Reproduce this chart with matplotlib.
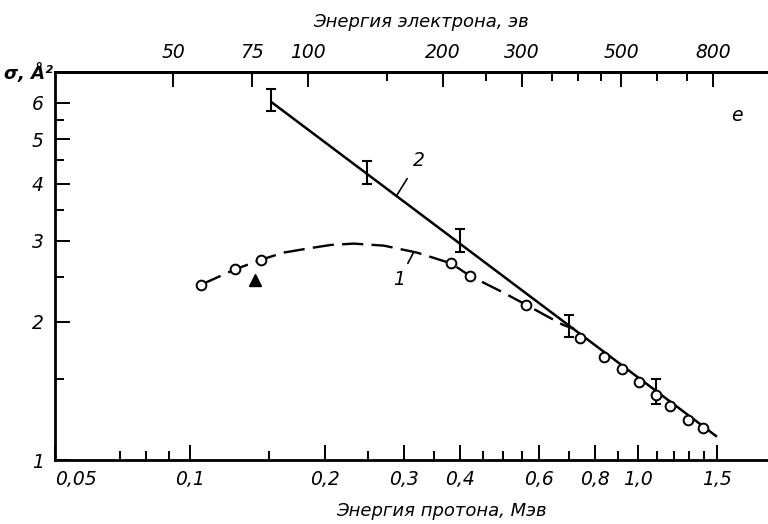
import matplotlib
matplotlib.use("Agg")
import matplotlib.pyplot as plt
from matplotlib.ticker import FixedLocator, FixedFormatter, NullFormatter

# ---------------- data ----------------
# curve 1: measured points (open circles)
circ_x = [0.106, 0.126, 0.144, 0.383, 0.421, 0.562, 0.744, 0.841, 0.920,
          1.007, 1.095, 1.180, 1.292, 1.398]
circ_y = [2.41, 2.60, 2.73, 2.68, 2.52, 2.18, 1.84, 1.68, 1.58,
          1.476, 1.387, 1.312, 1.22, 1.175]
# curve 1: dashed guide line
dash_x = [0.106, 0.126, 0.144, 0.162, 0.184, 0.206, 0.232, 0.271, 0.321,
          0.383, 0.421, 0.490, 0.562, 0.630, 0.680, 0.720]
dash_y = [2.41, 2.60, 2.73, 2.83, 2.89, 2.94, 2.96, 2.93, 2.83,
          2.68, 2.52, 2.34, 2.18, 2.05, 1.97, 1.93]
# single filled triangle
tri_x = [0.140]
tri_y = [2.47]
# curve 2: straight line
line2_x = [0.152, 1.50]
line2_y = [6.02, 1.124]
# curve 2: error bars
eb_x = [0.1515, 0.249, 0.401, 0.700, 1.095]
eb_y = [6.08, 4.23, 3.01, 1.96, 1.409]
eb_lo = [5.75, 4.00, 2.84, 1.854, 1.323]
eb_hi = [6.43, 4.47, 3.19, 2.07, 1.50]

# axis ticks
x_major = [0.05, 0.1, 0.2, 0.3, 0.4, 0.6, 0.8, 1.0, 1.5]
x_major_lbl = ["0,05", "0,1", "0,2", "0,3", "0,4", "0,6", "0,8", "1,0", "1,5"]
x_minor = [0.07, 0.08, 0.09, 0.15, 0.25, 0.35, 0.45, 0.5, 0.55, 0.7, 0.9,
           1.1, 1.2, 1.3, 1.4]
y_major = [1, 2, 3, 4, 5, 6]
y_major_lbl = ["1", "2", "3", "4", "5", "6"]
y_minor = [1.5, 2.5, 3.5, 4.5, 5.5]
top_major = [50, 75, 100, 200, 300, 500, 800]
top_major_lbl = ["50", "75", "100", "200", "300", "500", "800"]
top_minor = [150, 250, 350, 400, 450, 600, 700]
EV_PER_MEV = 544.7  # electron energy (eV) of same velocity as 1 MeV proton

# ---------------- fonts ----------------
FAM = "DejaVu Sans"
TICK_SIZE = 13.5
tick_font = dict(family=FAM, style="italic", size=TICK_SIZE)
lab_font = dict(family=FAM, style="italic", size=13)


def style_labels(labels):
    for lbl in labels:
        lbl.set_fontfamily(FAM)
        lbl.set_fontstyle("italic")
        lbl.set_fontsize(TICK_SIZE)


# ---------------- figure ----------------
W, H = 768, 524
fig = plt.figure(figsize=(W / 100, H / 100), dpi=100)
ax = fig.add_axes([55 / W, (H - 460) / H, (W - 55) / W, 388 / H])
ax.set_xscale("log")
ax.set_yscale("log")
ax.set_xlim(0.05, 1.95)
ax.set_ylim(1.0, 7.0)

# curve 2
ax.plot(line2_x, line2_y, color="black", lw=1.8, solid_capstyle="butt", zorder=3)
yerr = [[c - l for c, l in zip(eb_y, eb_lo)], [h - c for c, h in zip(eb_y, eb_hi)]]
ax.errorbar(eb_x, eb_y, yerr=yerr, fmt="none", ecolor="black", elinewidth=1.5,
            capsize=3.5, capthick=1.5, zorder=3)
# curve 1
ax.plot(dash_x, dash_y, color="black", lw=1.7, linestyle=(0, (9, 3.5)), zorder=2)
ax.plot(circ_x, circ_y, "o", ms=7, mfc="white", mec="black", mew=1.4, zorder=4)
ax.plot(tri_x, tri_y, "^", ms=8, color="black", zorder=4)

# labels on curves
ax.annotate("2", xy=(0.289, 3.76), xytext=(0.3236, 4.49), ha="center", va="center",
            arrowprops=dict(arrowstyle="-", lw=1.2, color="black", shrinkA=5, shrinkB=0),
            **tick_font)
ax.annotate("1", xy=(0.3154, 2.83), xytext=(0.2936, 2.475), ha="center", va="center",
            arrowprops=dict(arrowstyle="-", lw=1.2, color="black", shrinkA=3, shrinkB=0),
            **tick_font)
ax.text(0.957, 0.889, "e", transform=ax.transAxes, ha="center", va="center", **tick_font)

# spines
for s in ("left", "bottom", "top"):
    ax.spines[s].set_linewidth(2.0)
ax.spines["right"].set_visible(False)

# bottom / left ticks
ax.xaxis.set_major_locator(FixedLocator(x_major))
ax.xaxis.set_major_formatter(FixedFormatter(x_major_lbl))
ax.xaxis.set_minor_locator(FixedLocator(x_minor))
ax.xaxis.set_minor_formatter(NullFormatter())
ax.yaxis.set_major_locator(FixedLocator(y_major))
ax.yaxis.set_major_formatter(FixedFormatter(y_major_lbl))
ax.yaxis.set_minor_locator(FixedLocator(y_minor))
ax.yaxis.set_minor_formatter(NullFormatter())
ax.tick_params(which="both", direction="in", top=False, right=False, width=1.4)
ax.tick_params(which="major", length=11)
ax.tick_params(which="minor", length=6.5)
ax.tick_params(axis="x", which="major", pad=7)
ax.tick_params(axis="y", which="major", pad=8)
xl = ax.get_xticklabels()
style_labels(xl + ax.get_yticklabels())
xl[0].set_horizontalalignment("left")

# top axis: electron energy
sec = ax.secondary_xaxis("top", functions=(lambda x: x * EV_PER_MEV,
                                           lambda e: e / EV_PER_MEV))
sec.xaxis.set_major_locator(FixedLocator(top_major))
sec.xaxis.set_major_formatter(FixedFormatter(top_major_lbl))
sec.xaxis.set_minor_locator(FixedLocator(top_minor))
sec.xaxis.set_minor_formatter(NullFormatter())
sec.tick_params(which="both", direction="in", width=1.4)
sec.tick_params(which="major", length=11, pad=7)
sec.tick_params(which="minor", length=6.5)
sec.spines["top"].set_linewidth(2.0)
style_labels(sec.get_xticklabels())

# axis titles
fig.text(421 / W, 1 - 22 / H, "Энергия электрона, эв", ha="center", va="center", **lab_font)
fig.text(441 / W, 1 - 511 / H, "Энергия протона, Мэв", ha="center", va="center", **lab_font)
fig.text(4 / W, 1 - 73 / H, "σ, Å²", ha="left", va="center",
         family=FAM, style="italic", size=13, weight="bold")

fig.savefig("out.png", dpi=100)
